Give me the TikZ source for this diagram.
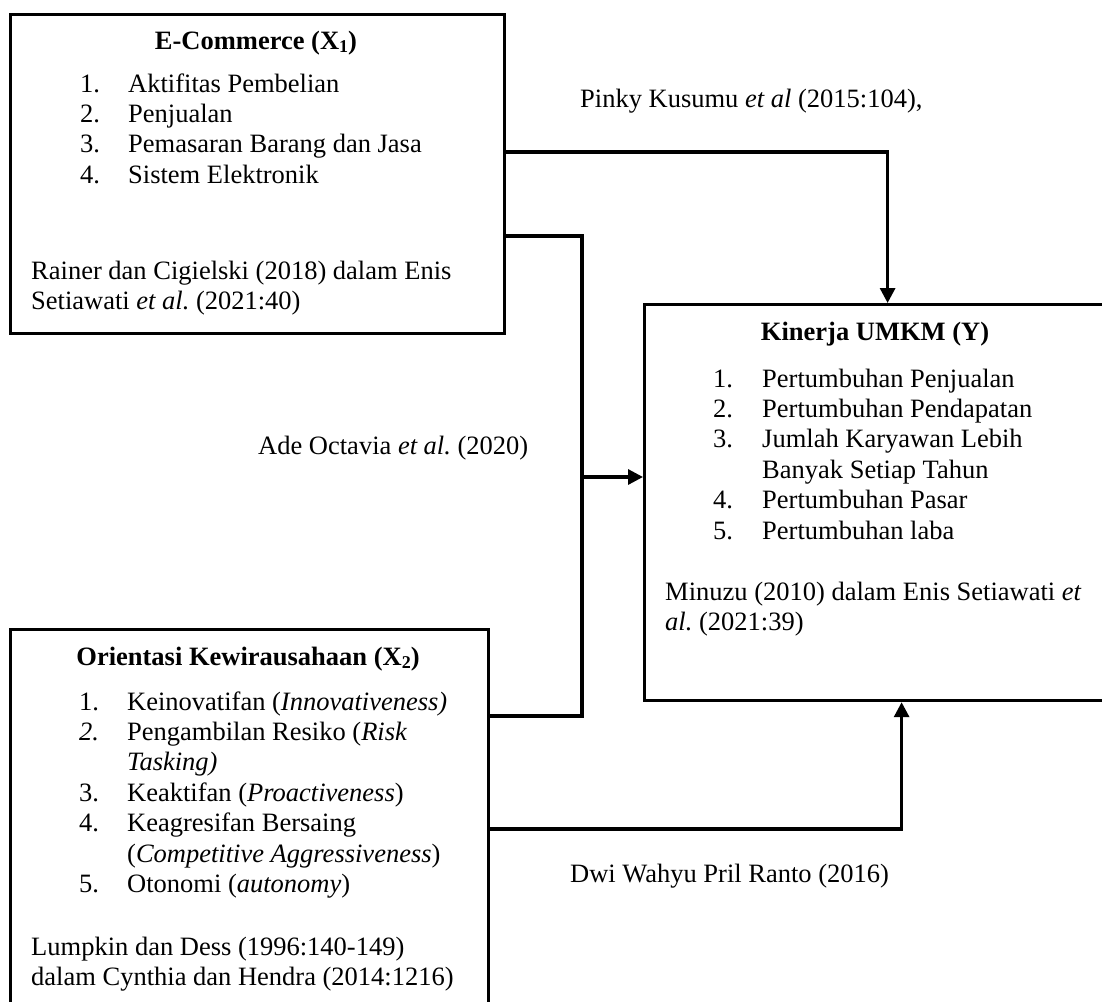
\documentclass[tikz,border=0pt]{standalone}
\usepackage{fontspec}
\setmainfont{Liberation Serif}
\usepackage{xcolor}
\usepackage{tikz}
\usetikzlibrary{arrows.meta}

\frenchspacing
\newcommand{\lowsub}[1]{\raisebox{-3pt}{\fontsize{18}{18}\selectfont #1}}

\tikzset{
  frame/.style={draw, line width=3.2pt, inner sep=0pt, anchor=north west},
  link/.style={line width=3.2pt},
  arr/.style={link, -{Triangle[length=15pt,width=15pt]}},
  txt/.style={inner sep=0pt, anchor=base west},
  head/.style={inner sep=0pt, anchor=base},
}

\begin{document}
\begin{tikzpicture}[x=1pt, y=-1pt, font=\fontsize{26.5}{30.4}\selectfont]

\useasboundingbox (0,0) rectangle (1102,1001);

\node[frame, minimum width=494pt, minimum height=319pt] (ecom) at (9,13) {};
\node[frame, minimum width=478pt, minimum height=400pt] (orient) at (9,628) {};
\node[frame, minimum width=486pt, minimum height=396pt] (kinerja) at (643,303) {};

\node[head] (ecomtitle) at (256,49) {\textbf{E-Commerce (X\lowsub{1})}};
\node[txt] (ecomlist) at (80,92) {\begin{tabular}[t]{@{}p{48pt}@{}l@{}}
1. & Aktifitas Pembelian\\
2. & Penjualan\\
3. & Pemasaran Barang dan Jasa\\
4. & Sistem Elektronik
\end{tabular}};
\node[txt] (ecomsrc) at (31,279) {\begin{tabular}[t]{@{}l@{}}
Rainer dan Cigielski (2018) dalam Enis\\
Setiawati \textit{et al.} (2021:40)
\end{tabular}};

\node[head] (orienttitle) at (248,665) {\textbf{Orientasi Kewirausahaan (X\lowsub{2})}};
\node[txt] (orientlist) at (79,710) {\begin{tabular}[t]{@{}p{48pt}@{}l@{}}
1. & Keinovatifan (\textit{Innovativeness)}\\
\textit{2.} & Pengambilan Resiko (\textit{Risk}\\
 & \textit{Tasking)}\\
3. & Keaktifan (\textit{Proactiveness})\\
4. & Keagresifan Bersaing\\
 & (\textit{Competitive Aggressiveness})\\
5. & Otonomi (\textit{autonomy})
\end{tabular}};
\node[txt] (orientsrc) at (31,955) {\begin{tabular}[t]{@{}l@{}}
Lumpkin dan Dess (1996:140-149)\\
dalam Cynthia dan Hendra (2014:1216)
\end{tabular}};

\node[head] (kinerjatitle) at (875,340) {\textbf{Kinerja UMKM (Y)}};
\node[txt] (kinerjalist) at (713,387) {\begin{tabular}[t]{@{}p{49pt}@{}l@{}}
1. & Pertumbuhan Penjualan\\
2. & Pertumbuhan Pendapatan\\
3. & Jumlah Karyawan Lebih\\
 & Banyak Setiap Tahun\\
4. & Pertumbuhan Pasar\\
5. & Pertumbuhan laba
\end{tabular}};
\node[txt] (kinerjasrc) at (665,600) {\begin{tabular}[t]{@{}l@{}}
Minuzu (2010) dalam Enis Setiawati \textit{et}\\
\textit{al.} (2021:39)
\end{tabular}};

\node[txt] (pinky) at (580,107) {Pinky Kusumu \textit{et al} (2015:104),};
\node[txt] (ade) at (258,454) {Ade Octavia \textit{et al.} (2020)};
\node[txt] (dwi) at (570,882) {Dwi Wahyu Pril Ranto (2016)};

\coordinate (join) at (582,477);
\draw[arr] (ecom.east |- 0,152) -| (kinerja.north);
\draw[link] (ecom.east |- 0,236) -| (join);
\draw[link] (orient.east |- 0,716) -| (join);
\draw[arr] (join) -- (kinerja.west |- join);
\draw[arr] (orient.east |- 0,829) -| ([xshift=14pt]kinerja.south);

\end{tikzpicture}
\end{document}
